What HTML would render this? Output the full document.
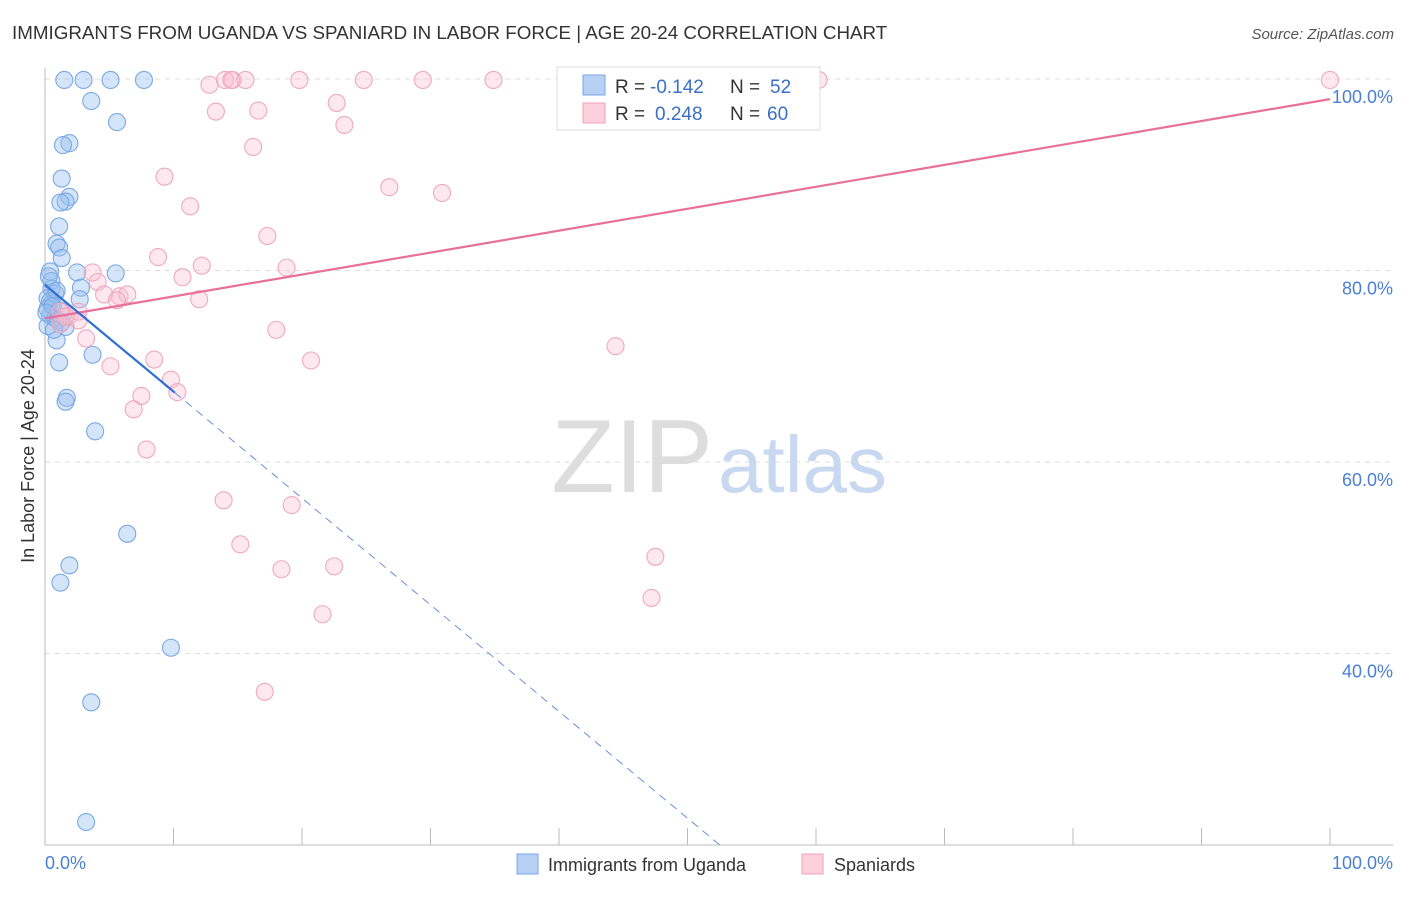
<!DOCTYPE html>
<html><head><meta charset="utf-8"><style>
body{margin:0;background:#fff;font-family:"Liberation Sans",sans-serif;}
svg text{font-family:"Liberation Sans",sans-serif;}
</style></head><body>
<svg id="chart" width="1406" height="892">
<text x="12" y="39" font-size="18.8" fill="#333">IMMIGRANTS FROM UGANDA VS SPANIARD IN LABOR FORCE | AGE 20-24 CORRELATION CHART</text>
<text x="1394" y="39" font-size="15" fill="#555" font-style="italic" text-anchor="end">Source: ZipAtlas.com</text>
<text x="713" y="492" font-size="104" fill="#ddd" text-anchor="end" font-family="Liberation Serif">ZIP</text>
<text x="718" y="492" font-size="80" fill="#c8d8f0">atlas</text>
<g id="grid"></g>
<g id="axes"></g>
<g id="pts"></g>
<g id="lines"></g>
<text transform="translate(34,456) rotate(-90)" font-size="18" fill="#333" text-anchor="middle">In Labor Force | Age 20-24</text>
<text x="45" y="869" font-size="18" fill="#4a7fd4">0.0%</text>
<text x="1393" y="869" font-size="18" fill="#4a7fd4" text-anchor="end">100.0%</text>
<g>
<rect x="557" y="67" width="263" height="63" fill="#fff" stroke="#ddd"/>
<rect x="583" y="75" width="22" height="20" fill="#b8d0f4" stroke="#7aa6e8"/>
<rect x="583" y="103" width="22" height="20" fill="#fcd0dc" stroke="#f0a0b8"/>
<text x="615" y="93" font-size="19" fill="#333">R =</text>
<text x="650" y="93" font-size="19" fill="#3a6fc8">-0.142</text>
<text x="730" y="93" font-size="19" fill="#333">N =</text>
<text x="770" y="93" font-size="19" fill="#3a6fc8">52</text>
<text x="615" y="120" font-size="19" fill="#333">R =</text>
<text x="655" y="120" font-size="19" fill="#3a6fc8">0.248</text>
<text x="730" y="120" font-size="19" fill="#333">N =</text>
<text x="767" y="120" font-size="19" fill="#3a6fc8">60</text>
</g>
<g><rect x="517" y="854" width="21" height="20" fill="#b8d0f4" stroke="#7aa6e8"/><text x="548" y="871" font-size="18" fill="#333">Immigrants from Uganda</text></g>
<g><rect x="802" y="854" width="21" height="20" fill="#fcd0dc" stroke="#f0a0b8"/><text x="834" y="871" font-size="18" fill="#333">Spaniards</text></g>
</svg>
<script>
const yTicks=[100,80,60,40];
const yTickLabels=["100.0%","80.0%","60.0%","40.0%"];
const ugandaX=[1.5,3,5.1,7.7,3.6,5.6,1.9,1.4,1.3,1.9,1.6,1.2,1.1,0.9,1.1,1.3,0.4,2.5,5.5,0.5,0.5,2.8,0.8,0.2,2.7,0.5,0.2,1.2,0.4,0.8,0.2,1.6,0.9,1.1,3.7,1.7,1.6,3.9,6.4,1.9,1.2,9.8,3.6,3.2,0.4,0.6,0.1,1,1.3,0.7,0.3,0.9];
const ugandaY=[99.9,99.9,99.9,99.9,97.7,95.5,93.3,93.1,89.6,87.7,87.2,87.1,84.6,82.8,82.4,81.3,79.9,79.8,79.7,78.9,78.1,78.2,77.6,77.1,77,76.5,76,75.8,75.3,75,74.2,74.1,72.7,70.4,71.2,66.7,66.3,63.2,52.5,49.2,47.4,40.6,34.9,22.4,76.8,76.3,75.6,74.8,74.6,73.8,79.4,77.9];
const spainX=[14.6,14,14.5,15.6,19.8,24.8,29.4,34.9,52,58.9,60.2,100,12.8,22.7,16.6,13.3,23.3,16.2,9.3,26.8,30.9,11.3,17.3,8.8,12.2,18.8,10.7,3.7,4.1,4.6,5.8,6.4,5.6,12,18,2.6,1.9,2.6,1.2,3.2,44.4,8.5,20.7,5.1,9.8,10.3,7.5,6.9,7.9,13.9,19.2,15.2,47.5,22.5,18.4,47.2,21.6,17.1,1.2,1.6];
const spainY=[99.9,99.9,99.9,99.9,99.9,99.9,99.9,99.9,99.9,99.9,99.9,99.9,99.4,97.5,96.7,96.6,95.2,92.9,89.8,88.7,88.1,86.7,83.6,81.4,80.5,80.3,79.3,79.8,78.8,77.5,77.3,77.5,76.9,77,73.8,75.7,75.3,74.8,75.7,72.9,72.1,70.7,70.6,70,68.6,67.3,66.9,65.5,61.3,56,55.5,51.4,50.1,49.1,48.8,45.8,44.1,36,74.4,75.2];
const ugandaFit=[78.5,-1.114];
const spainFit=[75.0,0.229];
const X0=45,X1=1330,Y100=79,PX=9.575;
const sx=v=>X0+(X1-X0)*v/100;
const sy=v=>Y100+(100-v)*PX;
const NS="http://www.w3.org/2000/svg";
function mk(tag,attrs,parent){const e=document.createElementNS(NS,tag);for(const k in attrs)e.setAttribute(k,attrs[k]);document.getElementById(parent).appendChild(e);return e;}
yTicks.forEach((t,i)=>{
 const g=mk('line',{x1:45,x2:1393,y1:sy(t),y2:sy(t),stroke:'#ddd','stroke-dasharray':'5,5'},'grid');
 
 
 const l=mk('text',{x:1393,y:sy(t)+24,'font-size':18,fill:'#4a7fd4','text-anchor':'end'},'grid');
 l.textContent=yTickLabels[i];
 
 
});
const ax=mk('line',{x1:45,x2:45,y1:68,y2:845,stroke:'#bbb'},'axes');


const bx=mk('line',{x1:45,x2:1393,y1:845,y2:845,stroke:'#bbb'},'axes');


for(let i=0;i<=10;i++){
 const t=mk('line',{x1:sx(i*10),x2:sx(i*10),y1:828,y2:845,stroke:'#bbb'},'axes');
 
 
}
ugandaX.forEach((x,i)=>{
 const c=mk('circle',{cx:sx(x),cy:sy(ugandaY[i]),r:8.5,fill:'rgba(150,190,240,0.4)',stroke:'#7aa8e4','stroke-width':1.1},'pts');
 
 
});
spainX.forEach((x,i)=>{
 const c=mk('circle',{cx:sx(x),cy:sy(spainY[i]),r:8.5,fill:'rgba(250,190,208,0.35)',stroke:'#f0a8bf','stroke-width':1.1},'pts');
 
 
});
const pl=mk('line',{x1:sx(0),y1:sy(spainFit[0]),x2:sx(100),y2:sy(spainFit[0]+100*spainFit[1]),stroke:'#e8709a','stroke-width':2.2},'lines');


const bEnd=10.1;
const bl=mk('line',{x1:sx(0),y1:sy(ugandaFit[0]),x2:sx(bEnd),y2:sy(ugandaFit[0]+bEnd*ugandaFit[1]),stroke:'#2f6fd6','stroke-width':2.2},'lines');


const xz=(20-ugandaFit[0])/ugandaFit[1];
const bd=mk('line',{x1:sx(bEnd),y1:sy(ugandaFit[0]+bEnd*ugandaFit[1]),x2:sx(xz),y2:sy(20),stroke:'#6a90d8','stroke-width':1,'stroke-dasharray':'8,6'},'lines');


</script>
</body></html>
